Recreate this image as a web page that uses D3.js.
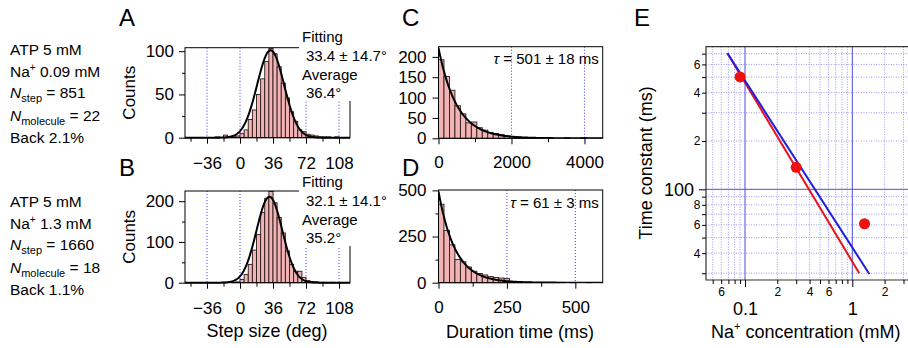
<!DOCTYPE html>
<html>
<head>
<meta charset="utf-8">
<script src="https://cdn.jsdelivr.net/npm/d3@7"></script>
<style>
  body { margin: 0; background: #fff; }
</style>
</head>
<body>
<script>
// ---- data ----
const atpMM = 5;
const naConc = [0.09, 1.3];
const nSteps = [851, 1660];
const nMolecules = [22, 18];
const backPct = [2.1, 1.1];

// step-size histograms (A, B): 4.5 deg bins starting at -27 deg
const angleBinStart = -27;
const angleBinWidth = 4.5;
const countsA = [1, 0, 3, 1, 1, 2, 5, 9, 21, 32, 50, 68, 88, 103, 97, 82, 63, 46, 30, 19, 9, 7, 4, 3, 2, 1, 1, 1, 0, 1];
const countsB = [0, 0, 1, 0, 1, 2, 8, 20, 45, 80, 118, 172, 207, 224, 196, 160, 122, 78, 45, 28, 28, 13, 5, 3, 2, 1, 1, 0, 1, 0];
const fitAmp = [101, 211];
const fitMean = [33.4, 32.1];
const fitSd = [14.7, 14.1];
const avgAngle = [36.4, 35.2];
const angleTicks = [-36, 0, 36, 72, 108];
const angleMinorTicks = [-54, -18, 18, 54, 90];

// dwell-time histograms (C, D)
const dwellBinWidth = [150, 20];
const countsC = [193, 152, 118, 80, 60, 38, 40, 26, 20, 14, 12, 9, 6, 4, 3, 2, 2, 1, 1, 0, 1, 0, 0, 1, 0, 0, 1];
const countsD = [425, 283, 205, 125, 113, 85, 62, 50, 42, 33, 28, 25, 22, 5, 3, 2, 3, 1, 2, 1, 1, 1, 2, 0, 1, 0, 0, 1];
const tauAmp = [222, 494];
const tauMs = [501, 61];
const tauErr = [18, 3];

// time constant vs Na+ (E)
const naConcE = [0.09, 0.3, 1.3];
const tauE = [501, 137, 61];
const redFit = [[0.0686, 704], [1.16, 30]];
const blueFit = [[0.0686, 704], [1.44, 29.7]];

const FONT = "'Liberation Sans', Arial, sans-serif";
const barFill = "#f2b3b5";
const dotBlue = "#3a3aff";

const svg = d3.select("body").append("svg")
  .attr("width", 908)
  .attr("height", 348)
  .style("font-family", FONT);

function styleAxis(g, size) {
  g.select(".domain").remove();
  g.selectAll("text").attr("font-size", size).attr("font-family", FONT).attr("fill", "#000");
  g.selectAll("line").attr("stroke", "#000");
}

function frame(g, x0, x1, y0, y1) {
  g.append("rect")
    .attr("x", x0).attr("y", y0)
    .attr("width", x1 - x0).attr("height", y1 - y0)
    .attr("fill", "none").attr("stroke", "#000").attr("stroke-width", 1);
}

function bars(g, counts, start, width, x, y) {
  g.append("g").selectAll("rect")
    .data(counts.map((c, i) => ({ c, x0: start + i * width, x1: start + (i + 1) * width })).filter(d => d.c > 0))
    .join("rect")
    .attr("x", d => x(d.x0))
    .attr("width", d => x(d.x1) - x(d.x0))
    .attr("y", d => y(d.c))
    .attr("height", d => y(0) - y(d.c))
    .attr("fill", barFill)
    .attr("stroke", "#2a1a1a")
    .attr("stroke-width", 0.9);
}

function dotted(g, vals, x, yTop, yBot) {
  g.append("g").selectAll("line").data(vals).join("line")
    .attr("x1", d => x(d)).attr("x2", d => x(d))
    .attr("y1", yTop).attr("y2", yBot)
    .attr("stroke", dotBlue).attr("stroke-width", 1)
    .attr("stroke-dasharray", "1,2");
}

// ---- left condition text ----
const infoTop = [55, 207];
naConc.forEach((na, i) => {
  const g = svg.append("g").attr("font-size", 15.5);
  const y0 = infoTop[i];
  g.append("text").attr("x", 10).attr("y", y0).text(`ATP ${atpMM} mM`);
  const t2 = g.append("text").attr("x", 10).attr("y", y0 + 22);
  t2.append("tspan").text("Na");
  t2.append("tspan").attr("font-size", 10).attr("dy", -6).text("+");
  t2.append("tspan").attr("dy", 6).text(` ${na} mM`);
  const t3 = g.append("text").attr("x", 10).attr("y", y0 + 43);
  t3.append("tspan").attr("font-style", "italic").text("N");
  t3.append("tspan").attr("font-size", 11).attr("dy", 4).text("step");
  t3.append("tspan").attr("dy", -4).text(` = ${nSteps[i]}`);
  const t4 = g.append("text").attr("x", 10).attr("y", y0 + 66);
  t4.append("tspan").attr("font-style", "italic").text("N");
  t4.append("tspan").attr("font-size", 11).attr("dy", 4).text("molecule");
  t4.append("tspan").attr("dy", -4).text(` = ${nMolecules[i]}`);
  g.append("text").attr("x", 10).attr("y", y0 + 88).text(`Back ${backPct[i]}%`);
});

// ---- panel letters ----
[["A", 119, 26], ["B", 119, 176], ["C", 402, 26], ["D", 402, 176], ["E", 634, 26]].forEach(([l, x, y]) => {
  svg.append("text").attr("x", x).attr("y", y).attr("font-size", 24).text(l);
});

// ---- A & B: step size ----
const xStep = d3.scaleLinear().domain([-60, 120]).range([185, 350]);
const stepRows = [
  { counts: countsA, y: d3.scaleLinear().domain([0, 104]).range([137.7, 47.7]), ticks: [0, 50, 100], minor: [25, 75], box: 26 },
  { counts: countsB, y: d3.scaleLinear().domain([0, 225]).range([282.7, 191]), ticks: [0, 100, 200], minor: [50, 150], box: 171 }
];

stepRows.forEach((row, i) => {
  const g = svg.append("g");
  const y = row.y;
  const [yb, yt] = y.range();
  dotted(g, angleTicks, xStep, yt, yb);
  bars(g, row.counts, angleBinStart, angleBinWidth, xStep, y);

  // gaussian fit drawn from the fitted parameters shown in the annotation
  const curve = d3.range(-60, 120.01, 0.5).map(a => [a, fitAmp[i] * Math.exp(-((a - fitMean[i]) ** 2) / (2 * fitSd[i] ** 2))]);
  g.append("path")
    .datum(curve)
    .attr("fill", "none").attr("stroke", "#000").attr("stroke-width", 2)
    .attr("d", d3.line().x(d => xStep(d[0])).y(d => y(d[1])));

  frame(g, 185, 350, yt, yb);

  const ax = g.append("g").attr("transform", `translate(0,${yb})`)
    .call(d3.axisBottom(xStep).tickValues(angleTicks).tickSize(6).tickPadding(13).tickSizeOuter(0));
  styleAxis(ax, 17);
  const axm = g.append("g").attr("transform", `translate(0,${yb})`)
    .call(d3.axisBottom(xStep).tickValues(angleMinorTicks).tickSize(4).tickFormat("").tickSizeOuter(0));
  styleAxis(axm, 17);
  const ay = g.append("g").attr("transform", "translate(185,0)")
    .call(d3.axisLeft(y).tickValues(row.ticks).tickSize(6).tickPadding(5).tickSizeOuter(0));
  styleAxis(ay, 17);
  const aym = g.append("g").attr("transform", "translate(185,0)")
    .call(d3.axisLeft(y).tickValues(row.minor).tickSize(3).tickFormat("").tickSizeOuter(0));
  styleAxis(aym, 17);

  g.append("text")
    .attr("transform", `translate(135,${(yb + yt) / 2}) rotate(-90)`)
    .attr("text-anchor", "middle").attr("font-size", 17).text("Counts");

  // fit annotation box
  const by = row.box;
  g.append("rect").attr("x", 299).attr("y", by).attr("width", 80).attr("height", 75).attr("fill", "#fff");
  const tg = g.append("g").attr("font-size", 15);
  tg.append("text").attr("x", 302).attr("y", by + 16).text("Fitting");
  tg.append("text").attr("x", 306).attr("y", by + 35).text(`${fitMean[i]} ± ${fitSd[i]}°`);
  tg.append("text").attr("x", 302).attr("y", by + 54).text("Average");
  tg.append("text").attr("x", 306).attr("y", by + 72).text(`${avgAngle[i]}°`);
});

svg.append("text").attr("x", 267).attr("y", 337).attr("text-anchor", "middle")
  .attr("font-size", 18).text("Step size (deg)");

// ---- C & D: dwell time ----
const dwellRows = [
  { counts: countsC, x: d3.scaleLinear().domain([0, 4500]).range([438.5, 602.7]), y: d3.scaleLinear().domain([0, 225]).range([138.3, 46.7]),
    xt: [0, 2000, 4000], xm: [1000, 3000], yt: [0, 50, 100, 150, 200], ym: [], dots: [2000, 4000], tauY: 64 },
  { counts: countsD, x: d3.scaleLinear().domain([0, 600]).range([438.5, 602.7]), y: d3.scaleLinear().domain([0, 502]).range([282.7, 190]),
    xt: [0, 250, 500], xm: [125, 375], yt: [0, 250, 500], ym: [125, 375], dots: [250, 500], tauY: 208 }
];

dwellRows.forEach((row, i) => {
  const g = svg.append("g");
  const x = row.x, y = row.y;
  const [yb, yt] = y.range();
  const [xl, xr] = x.range();
  g.append("defs").append("clipPath").attr("id", `clipdw${i}`)
    .append("rect").attr("x", xl).attr("y", yt).attr("width", xr - xl).attr("height", yb - yt);
  dotted(g, row.dots, x, yt, yb);
  bars(g, row.counts, 0, dwellBinWidth[i], x, y);
  // exponential fit from the fitted time constant
  const xmax = x.domain()[1];
  const curve = d3.range(0, xmax + 0.01, xmax / 300).map(t => [t, tauAmp[i] * Math.exp(-t / tauMs[i])]);
  g.append("path").datum(curve)
    .attr("clip-path", `url(#clipdw${i})`)
    .attr("fill", "none").attr("stroke", "#000").attr("stroke-width", 2)
    .attr("d", d3.line().x(d => x(d[0])).y(d => y(d[1])));
  frame(g, xl, xr, yt, yb);

  const ax = g.append("g").attr("transform", `translate(0,${yb})`)
    .call(d3.axisBottom(x).tickValues(row.xt).tickSize(6).tickPadding(12).tickFormat(d3.format("d")).tickSizeOuter(0));
  styleAxis(ax, 17);
  const axm = g.append("g").attr("transform", `translate(0,${yb})`)
    .call(d3.axisBottom(x).tickValues(row.xm).tickSize(4).tickFormat("").tickSizeOuter(0));
  styleAxis(axm, 17);
  const ay = g.append("g").attr("transform", `translate(${xl},0)`)
    .call(d3.axisLeft(y).tickValues(row.yt).tickSize(6).tickPadding(6).tickSizeOuter(0));
  styleAxis(ay, 17);
  const aym = g.append("g").attr("transform", `translate(${xl},0)`)
    .call(d3.axisLeft(y).tickValues(row.ym).tickSize(3).tickFormat("").tickSizeOuter(0));
  styleAxis(aym, 17);

  const tt = g.append("text").attr("x", xr - 4).attr("y", row.tauY).attr("text-anchor", "end").attr("font-size", 15);
  tt.append("tspan").attr("font-style", "italic").text("τ");
  tt.append("tspan").text(` = ${tauMs[i]} ± ${tauErr[i]} ms`);
});

svg.append("text").attr("x", 520).attr("y", 338).attr("text-anchor", "middle")
  .attr("font-size", 18).text("Duration time (ms)");

// ---- E: time constant vs Na+ ----
const xE = d3.scaleLog().domain([0.1, 1]).range([745, 852.3]);
const yE = d3.scaleLog().domain([100, 1000]).range([189.3, 28.8]);
const eL = 706, eR = 930, eT = 46.7, eB = 280;
const gE = svg.append("g");
gE.append("defs").append("clipPath").attr("id", "clipE")
  .append("rect").attr("x", eL).attr("y", eT).attr("width", eR - eL).attr("height", eB - eT);
const gridE = gE.append("g").attr("clip-path", "url(#clipE)");

const xMinorGrid = [0.04, 0.05, 0.06, 0.07, 0.08, 0.09, 0.2, 0.3, 0.4, 0.5, 0.6, 0.7, 0.8, 0.9, 2, 3];
const xMajorGrid = [0.1, 1];
const yMinorGrid = [30, 40, 50, 60, 70, 80, 90, 200, 300, 400, 500, 600, 700];
const yMajorGrid = [100];

gridE.selectAll(".vmin").data(xMinorGrid).join("line")
  .attr("x1", d => xE(d)).attr("x2", d => xE(d)).attr("y1", eT).attr("y2", eB)
  .attr("stroke", "#9a9af2").attr("stroke-width", 1).attr("stroke-dasharray", "1,1.5");
gridE.selectAll(".hmin").data(yMinorGrid).join("line")
  .attr("x1", eL).attr("x2", eR).attr("y1", d => yE(d)).attr("y2", d => yE(d))
  .attr("stroke", "#9a9af2").attr("stroke-width", 1).attr("stroke-dasharray", "1,1.5");
gridE.selectAll(".vmaj").data(xMajorGrid).join("line")
  .attr("x1", d => xE(d)).attr("x2", d => xE(d)).attr("y1", eT).attr("y2", eB)
  .attr("stroke", "#4b4be0").attr("stroke-width", 1);
gridE.selectAll(".hmaj").data(yMajorGrid).join("line")
  .attr("x1", eL).attr("x2", eR).attr("y1", d => yE(d)).attr("y2", d => yE(d))
  .attr("stroke", "#4b4be0").attr("stroke-width", 1);

const fitLine = d3.line().x(d => xE(d[0])).y(d => yE(d[1]));
gE.append("path").datum(redFit).attr("d", fitLine).attr("stroke", "#e8141e").attr("stroke-width", 2).attr("fill", "none");
gE.append("path").datum(blueFit).attr("d", fitLine).attr("stroke", "#1e1ee0").attr("stroke-width", 2).attr("fill", "none");

gE.selectAll("circle").data(naConcE.map((c, i) => [c, tauE[i]])).join("circle")
  .attr("cx", d => xE(d[0])).attr("cy", d => yE(d[1])).attr("r", 5.5).attr("fill", "#f01010");

gE.append("path")
  .attr("d", `M${eR},${eT}H${eL}V${eB}H${eR}`)
  .attr("fill", "none").attr("stroke", "#333").attr("stroke-width", 1.2);

const smallX = new Map([[0.06, "6"], [0.2, "2"], [0.4, "4"], [0.6, "6"], [2, "2"]]);
const axE1 = gE.append("g").attr("transform", `translate(0,${eB})`)
  .call(d3.axisBottom(xE).tickValues(xMinorGrid.filter(d => d >= 0.045)).tickSize(4).tickPadding(3)
    .tickFormat(d => smallX.get(d) || "").tickSizeOuter(0));
styleAxis(axE1, 12);
const axE2 = gE.append("g").attr("transform", `translate(0,${eB})`)
  .call(d3.axisBottom(xE).tickValues(xMajorGrid).tickSize(7).tickPadding(15).tickFormat(d3.format("")).tickSizeOuter(0));
styleAxis(axE2, 18);

const smallY = new Map([[40, "4"], [60, "6"], [80, "8"], [200, "2"], [400, "4"], [600, "6"]]);
const ayE1 = gE.append("g").attr("transform", `translate(${eL},0)`)
  .call(d3.axisLeft(yE).tickValues(yMinorGrid).tickSize(4).tickPadding(1.5)
    .tickFormat(d => smallY.get(d) || "").tickSizeOuter(0));
styleAxis(ayE1, 12);
const ayE2 = gE.append("g").attr("transform", `translate(${eL},0)`)
  .call(d3.axisLeft(yE).tickValues(yMajorGrid).tickSize(7).tickPadding(5).tickFormat(d3.format("")).tickSizeOuter(0));
styleAxis(ayE2, 18);

svg.append("text")
  .attr("transform", `translate(652,163) rotate(-90)`)
  .attr("text-anchor", "middle").attr("font-size", 18).text("Time constant (ms)");

const xl = svg.append("text").attr("x", 711).attr("y", 338).attr("font-size", 18);
xl.append("tspan").text("Na");
xl.append("tspan").attr("font-size", 11).attr("dy", -8).text("+");
xl.append("tspan").attr("dy", 8).text(" concentration (mM)");
</script>
</body>
</html>
